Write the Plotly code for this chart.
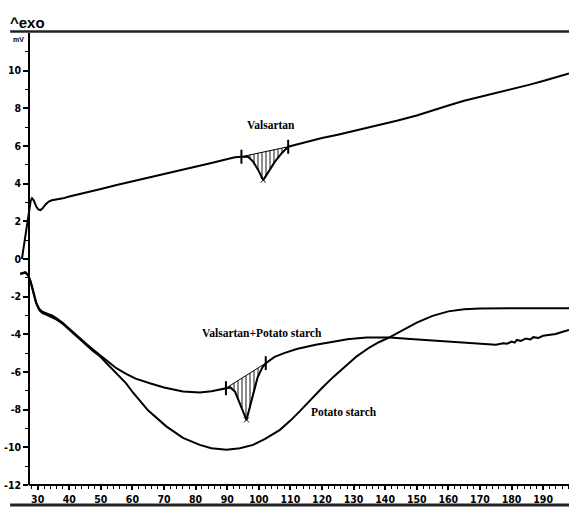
import plotly.graph_objects as go

# ---- Temperature (°C) / heat flow (mW) readings ----
valsartan_t = [25.0, 25.8, 26.6, 27.3, 27.8, 28.2, 28.8, 29.5, 30.2, 30.9, 31.6, 32.5, 33.5,
               34.5, 36.0, 38.0, 40.0, 45.0, 50.0, 55.0, 60.0, 64.4, 70.0, 75.0, 80.0, 85.0,
               90.8, 92.5, 94.5, 96.6, 98.2, 99.8, 101.4, 103.0, 105.1, 107.2, 109.3, 112.0,
               115.0, 120.0, 125.0, 128.9, 133.0, 138.4, 144.0, 150.0, 154.1, 160.0, 165.0,
               170.0, 175.0, 180.0, 185.8, 190.0, 195.0, 198.2]
valsartan_mw = [0.0, 0.9, 1.9, 2.7, 3.1, 3.22, 3.1, 2.8, 2.63, 2.6, 2.7, 2.9, 3.05,
                3.12, 3.15, 3.22, 3.32, 3.5, 3.72, 3.93, 4.12, 4.28, 4.5, 4.7, 4.9, 5.1,
                5.34, 5.4, 5.43, 5.43, 5.17, 4.73, 4.19, 4.64, 5.17, 5.61, 5.96, 6.08,
                6.22, 6.42, 6.6, 6.75, 6.9, 7.1, 7.35, 7.62, 7.85, 8.15, 8.4,
                8.6, 8.82, 9.02, 9.26, 9.45, 9.68, 9.85]

blend_t = [24.5, 25.3, 26.1, 27.0, 27.8, 28.6, 29.5, 30.5, 31.5, 33.0, 34.5, 36.0, 38.0,
           40.0, 42.5, 45.0, 47.5, 49.6, 52.0, 54.9, 58.0, 61.0, 65.5, 70.0, 76.0, 81.3,
           85.0, 88.0, 89.6, 91.0, 92.5, 93.8, 95.0, 96.1, 97.2, 98.4, 99.6, 101.0, 102.2,
           105.0, 108.0, 112.0, 118.0, 123.6, 128.0, 134.1, 141.5, 148.0, 155.3, 160.0,
           165.8, 170.0, 173.2, 175.0, 177.4, 178.6, 180.0, 181.0, 181.7, 183.0, 184.5,
           186.0, 186.9, 188.5, 190.0, 192.2, 194.0, 196.0, 198.2]
blend_mw = [-0.78, -0.72, -0.7, -0.85, -1.2, -1.7, -2.3, -2.65, -2.8, -2.9, -3.0, -3.15, -3.4,
            -3.7, -4.1, -4.45, -4.8, -5.09, -5.45, -5.8, -6.1, -6.35, -6.6, -6.82, -7.04, -7.09,
            -7.02, -6.92, -6.86, -6.82, -7.05, -7.6, -8.1, -8.54, -7.85, -7.0, -6.3, -5.8, -5.53,
            -5.2, -5.0, -4.78, -4.55, -4.39, -4.26, -4.17, -4.17, -4.25, -4.33, -4.4,
            -4.47, -4.52, -4.56, -4.55, -4.47, -4.5, -4.38, -4.44, -4.3, -4.35, -4.22,
            -4.27, -4.15, -4.19, -4.08, -4.03, -3.98, -3.88, -3.77]

starch_t = [24.5, 25.3, 26.1, 27.0, 27.8, 28.6, 29.5, 30.5, 31.5, 33.0, 34.5, 36.0, 38.0,
            40.0, 42.5, 45.0, 47.5, 49.6, 52.0, 55.0, 58.0, 60.2, 65.0, 70.8, 76.0, 81.3,
            85.0, 89.8, 94.0, 98.2, 102.0, 106.7, 110.0, 113.0, 116.5, 120.0, 123.6, 127.5,
            131.0, 135.0, 138.0, 141.5, 145.0, 150.0, 155.0, 160.0, 165.0, 170.0, 180.0,
            190.0, 198.2]
starch_mw = [-0.8, -0.74, -0.72, -0.88, -1.25, -1.78, -2.35, -2.72, -2.88, -2.98, -3.08, -3.22, -3.45,
             -3.75, -4.15, -4.52, -4.88, -5.15, -5.55, -6.05, -6.6, -7.1, -8.05, -8.9, -9.5, -9.87,
             -10.05, -10.13, -10.05, -9.87, -9.55, -9.07, -8.58, -8.08, -7.45, -6.85, -6.26, -5.66,
             -5.17, -4.7, -4.42, -4.15, -3.82, -3.38, -3.02, -2.78, -2.67, -2.63, -2.62,
             -2.62, -2.62]

# integration limits (onset / endset) and peak of each melting endotherm
valsartan_limits = (94.5, 109.3)
valsartan_peak = 101.4
blend_limits = (89.6, 102.2)
blend_peak = 96.1

x_ticks = list(range(30, 200, 10))
y_ticks = list(range(-12, 12, 2))

X_RANGE = [24.4, 198.2]
Y_RANGE = [-12, 12]
AXIS_X = 27.3  # temperature where the mV axis sits

fig = go.Figure()


def peak_area(ts, ys, limits):
    """Polygon between the straight integration baseline and the curve."""
    i0, i1 = ts.index(limits[0]), ts.index(limits[1])
    seg_t = ts[i0:i1 + 1]
    seg_y = ys[i0:i1 + 1]
    return [seg_t[0]] + seg_t[::-1], [seg_y[0]] + seg_y[::-1]


for ts, ys, lim in [(valsartan_t, valsartan_mw, valsartan_limits),
                    (blend_t, blend_mw, blend_limits)]:
    px_, py_ = peak_area(ts, ys, lim)
    fig.add_trace(go.Scatter(
        x=px_, y=py_, mode="lines", fill="toself",
        fillcolor="white",
        fillpattern=dict(shape="|", fgcolor="black", bgcolor="white", size=4, solidity=0.45),
        line=dict(color="black", width=1), hoverinfo="skip", showlegend=False))

for ts, ys in [(valsartan_t, valsartan_mw), (blend_t, blend_mw), (starch_t, starch_mw)]:
    fig.add_trace(go.Scatter(x=ts, y=ys, mode="lines",
                             line=dict(color="black", width=2), showlegend=False))

# limit markers on the curves
for ts, ys, lim, pk in [(valsartan_t, valsartan_mw, valsartan_limits, valsartan_peak),
                        (blend_t, blend_mw, blend_limits, blend_peak)]:
    mx = list(lim)
    my = [ys[ts.index(v)] for v in lim]
    fig.add_trace(go.Scatter(x=mx, y=my, mode="markers",
                             marker=dict(symbol="line-ns", size=10,
                                         line=dict(color="black", width=2)),
                             showlegend=False))
    fig.add_trace(go.Scatter(x=[pk], y=[ys[ts.index(pk)]], mode="markers",
                             marker=dict(symbol="x-thin", size=5,
                                         line=dict(color="black", width=1)),
                             showlegend=False))

label_font = dict(family="Liberation Serif, Times New Roman, serif", size=11.5,
                  color="black", weight="bold")
tick_font = dict(family="Liberation Sans Narrow, DejaVu Sans Condensed, Arial Narrow, sans-serif",
                 size=10.5, color="black", weight="bold")

annotations = [
    dict(x=103.9, y=7.12, xref="x", yref="y", text="Valsartan", showarrow=False,
         font=label_font),
    dict(x=100.9, y=-3.93, xref="x", yref="y", text="Valsartan+Potato starch",
         showarrow=False, font=label_font),
    dict(x=126.9, y=-8.1, xref="x", yref="y", text="Potato starch", showarrow=False,
         font=label_font),
    dict(x=-0.022, y=1.024, xref="paper", yref="paper", text="^exo", showarrow=False,
         xanchor="left", yanchor="middle",
         font=dict(family="Liberation Sans Narrow, Arial Narrow, Arial, sans-serif",
                   size=15, color="black", weight="bold")),
    dict(x=-0.003, y=0.985, xref="paper", yref="paper", text="mV", showarrow=False,
         xanchor="center", yanchor="middle",
         font=dict(family="Liberation Sans Narrow, Arial Narrow, Arial, sans-serif",
                   size=7, color="black", weight="bold")),
]

shapes = [
    # x axis line starting at the mV axis
    dict(type="line", xref="x", yref="paper", x0=AXIS_X, x1=X_RANGE[1], y0=0, y1=0,
         line=dict(color="black", width=2)),
    # frame rules above and below the plot
    dict(type="line", xref="paper", yref="paper", x0=-0.018, x1=1.0, y0=1.0035, y1=1.0035,
         line=dict(color="#222222", width=2.5)),
    dict(type="line", xref="paper", yref="paper", x0=-0.018, x1=1.0, y0=-0.0445, y1=-0.0445,
         line=dict(color="#222222", width=3)),
]

fig.update_layout(
    width=569, height=509,
    margin=dict(l=20, r=0, t=33, b=24),
    paper_bgcolor="white", plot_bgcolor="white",
    showlegend=False,
    annotations=annotations,
    shapes=shapes,
    xaxis=dict(range=X_RANGE, showgrid=False, zeroline=False, showline=False,
               tickmode="array", tickvals=x_ticks, ticktext=[str(v) for v in x_ticks],
               ticks="outside", ticklen=4, tickwidth=1.5, tickcolor="black",
               tickfont=tick_font, automargin=False,
               minor=dict(tickmode="array", tickvals=list(range(28, 199, 2)),
                          ticks="outside", ticklen=3, tickwidth=1.2, tickcolor="black")),
    yaxis=dict(range=Y_RANGE, showgrid=False, zeroline=False, showline=True,
               linecolor="black", linewidth=2, anchor="free",
               position=(29.3 - 20) / 549,
               tickmode="array", tickvals=y_ticks, ticktext=[str(v) for v in y_ticks],
               ticks="outside", ticklen=5, tickwidth=1.5, tickcolor="black",
               tickfont=tick_font, automargin=False,
               minor=dict(tickmode="array", tickvals=list(range(-11, 12, 2)),
                          ticks="outside", ticklen=3, tickwidth=1.2, tickcolor="black")),
)

fig.write_html("out.html")
